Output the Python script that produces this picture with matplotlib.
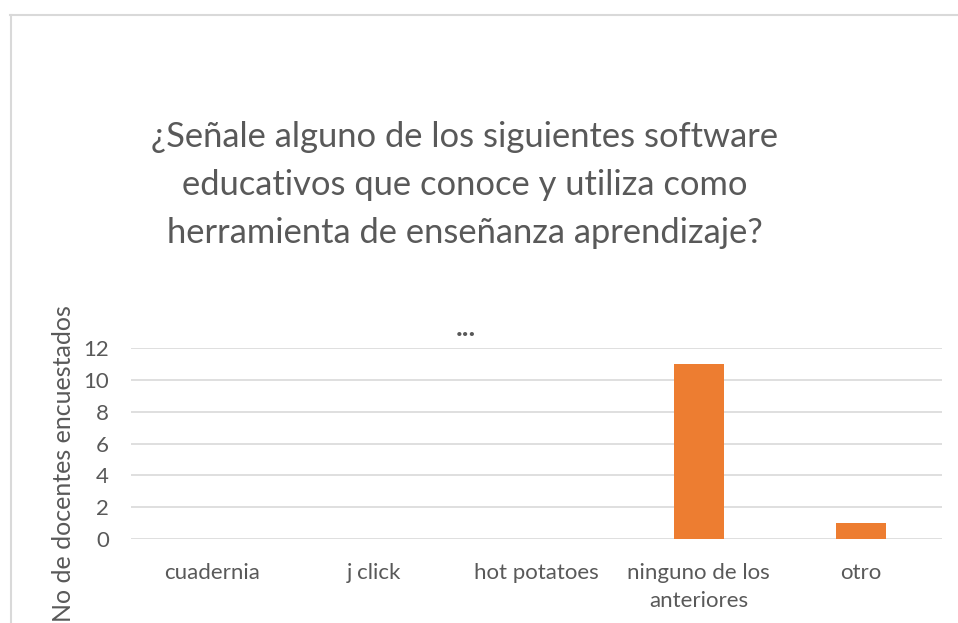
import matplotlib
matplotlib.use("Agg")
import matplotlib.pyplot as plt
from matplotlib.lines import Line2D

categories = ["cuadernia", "j click", "hot potatoes", "ninguno de los\nanteriores", "otro"]
values = [0, 0, 0, 11, 1]
yticks = [0, 2, 4, 6, 8, 10, 12]
title = "¿Señale alguno de los siguientes software\neducativos que conoce y utiliza como\nherramienta de enseñanza aprendizaje?"
ylabel = "No de docentes encuestados"

plt.rcParams['font.family'] = ['Lato', 'DejaVu Sans']
W, H = 958, 623
fig = plt.figure(figsize=(W/100, H/100), dpi=100)
gray = "#595959"

ax = fig.add_axes([131/W, 1-539/H, (942-131)/W, (539-348)/H])
x = list(range(len(categories)))
ax.bar(x, values, width=0.31, color="#ED7D31", zorder=3)
ax.set_xlim(-0.5, len(categories)-0.5)
ax.set_ylim(0, 12)
ax.set_yticks(yticks)
ax.set_yticklabels([str(t) for t in yticks], fontsize=16, color=gray)
ax.set_xticks(x)
ax.set_xticklabels(categories, fontsize=16, color=gray, linespacing=1.55)
ax.tick_params(axis='both', length=0)
ax.tick_params(axis='y', pad=16)
ax.tick_params(axis='x', pad=17)
ax.grid(axis='y', color="#d9d9d9", linewidth=1.2, zorder=0)
for s in ax.spines.values():
    s.set_visible(False)

fig.text(465/W, 1-185/H, title, ha='center', va='center', fontsize=24.8, color=gray, linespacing=1.6)
fig.text(466/W, 1-328/H, "...", ha='center', va='center', fontsize=20, color=gray, fontweight='bold')
fig.text(64/W, 1-464/H, ylabel, rotation=90, ha='center', va='center', fontsize=18, color=gray)

fig.add_artist(Line2D([10/W, 1], [1-15/H, 1-15/H], color="#d9d9d9", linewidth=1.5, transform=fig.transFigure))
fig.add_artist(Line2D([11/W, 11/W], [0, 1-15/H], color="#d9d9d9", linewidth=1.5, transform=fig.transFigure))

fig.savefig("out.png", dpi=100)
